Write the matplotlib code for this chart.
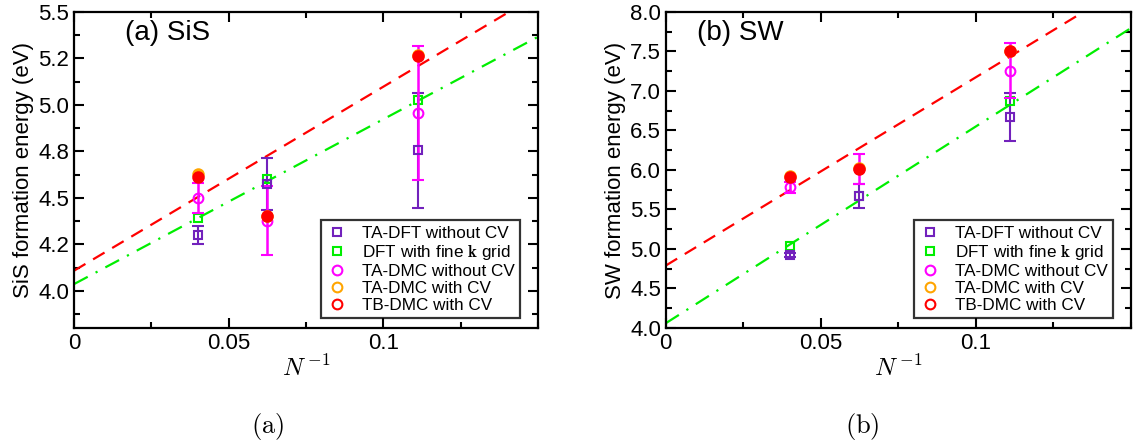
import matplotlib
matplotlib.use('Agg')
import matplotlib.pyplot as plt
from matplotlib.lines import Line2D
from matplotlib.ticker import MultipleLocator, FormatStrFormatter, FixedFormatter, FixedLocator

plt.rcParams['font.family'] = ['Liberation Sans', 'DejaVu Sans']
plt.rcParams['mathtext.fontset'] = 'cm'

# inverse supercell size 1/N
inv_N = [0.04, 0.0625, 0.1111]

# (a) SiS
sis_ta_dft = [4.30, 4.575, 4.755]
sis_ta_dft_err = [0.05, 0.14, 0.31]
sis_dft_fine = [4.39, 4.60, 5.025]
sis_ta_dmc = [4.50, 4.377, 4.955]
sis_ta_dmc_err = [0.08, 0.185, 0.36]
sis_ta_dmc_cv = [4.63, 4.405, 5.27]
sis_ta_dmc_cv_err = [0.01, 0.02, 0.02]
sis_tb_dmc_cv = [4.61, 4.40, 5.265]
sis_tb_dmc_cv_err = [0.01, 0.01, 0.02]
sis_fit_dmc = (4.108, 9.9)     # intercept, slope
sis_fit_dft = (4.036, 8.87)

# (b) SW
sw_ta_dft = [4.925, 5.674, 6.672]
sw_ta_dft_err = [0.03, 0.15, 0.30]
sw_dft_fine = [5.04, 5.665, 6.875]
sw_ta_dmc = [5.784, 6.013, 7.256]
sw_ta_dmc_err = [0.07, 0.19, 0.35]
sw_ta_dmc_cv = [5.928, 6.02, 7.51]
sw_ta_dmc_cv_err = [0.02, 0.02, 0.03]
sw_tb_dmc_cv = [5.906, 6.013, 7.505]
sw_tb_dmc_cv_err = [0.02, 0.03, 0.04]
sw_fit_dmc = (4.79, 23.83)
sw_fit_dft = (4.06, 24.9)

labels = ['TA-DFT without CV', r'DFT with fine $\mathbf{k}$ grid',
          'TA-DMC without CV', 'TA-DMC with CV', 'TB-DMC with CV']

c_purple = '#7221bc'
c_green = '#00ee00'
c_magenta = '#ff00ff'
c_orange = '#ffa500'
c_red = '#ff0000'


def panel(ax, ta_dft, ta_dft_err, dft_fine, ta_dmc, ta_dmc_err,
          ta_cv, ta_cv_err, tb_cv, tb_cv_err, fit_dmc, fit_dft):
    xs = [0, 0.15]
    ax.plot(xs, [fit_dmc[0] + fit_dmc[1] * x for x in xs], c=c_red, ls=(0, (6, 4)), lw=1.6)
    ax.plot(xs, [fit_dft[0] + fit_dft[1] * x for x in xs], c=c_green, ls=(0, (7, 4, 1, 4)), lw=1.6)

    ax.errorbar(inv_N, ta_dft, yerr=ta_dft_err, fmt='s', ms=6, mfc='none', mec=c_purple,
                mew=1.5, ecolor=c_purple, elinewidth=1.5, capsize=4, capthick=1.5)
    ax.plot(inv_N, dft_fine, 's', ms=6, mfc='none', mec=c_green, mew=1.5)
    ax.errorbar(inv_N, ta_dmc, yerr=ta_dmc_err, fmt='o', ms=7, mfc='none', mec=c_magenta,
                mew=1.5, ecolor=c_magenta, elinewidth=1.8, capsize=4, capthick=1.5)
    ax.errorbar(inv_N, ta_cv, yerr=ta_cv_err, fmt='o', ms=7.5, mfc=c_orange, mec=c_orange,
                mew=1.5, ecolor=c_orange, elinewidth=1.2, capsize=2)
    ax.errorbar(inv_N, tb_cv, yerr=tb_cv_err, fmt='o', ms=7.5, mfc=c_red, mec=c_red,
                mew=1.5, ecolor=c_orange, elinewidth=1.0, capsize=2)

    ax.set_xlim(0, 0.15)
    ax.xaxis.set_major_locator(FixedLocator([0, 0.05, 0.1]))
    ax.xaxis.set_major_formatter(FixedFormatter(['0', '0.05', '0.1']))
    ax.xaxis.set_minor_locator(MultipleLocator(0.025))
    ax.tick_params(which='both', direction='in', top=True, right=True, width=1.5)
    ax.tick_params(which='major', length=7, labelsize=16)
    ax.tick_params(which='minor', length=4)
    for s in ax.spines.values():
        s.set_linewidth(1.6)
    ax.set_xlabel(r'$N^{\,\mathrm{-1}}$', fontsize=18, labelpad=1)

    handles = [
        Line2D([], [], ls='none', marker='s', ms=6, mfc='none', mec=c_purple, mew=1.5),
        Line2D([], [], ls='none', marker='s', ms=6, mfc='none', mec=c_green, mew=1.5),
        Line2D([], [], ls='none', marker='o', ms=7, mfc='none', mec=c_magenta, mew=1.5),
        Line2D([], [], ls='none', marker='o', ms=7, mfc='none', mec=c_orange, mew=1.5),
        Line2D([], [], ls='none', marker='o', ms=7, mfc='none', mec=c_red, mew=1.5),
    ]
    leg = ax.legend(handles, labels, loc='lower right', bbox_to_anchor=(0.962, 0.032),
                    fontsize=12.3, frameon=True, fancybox=False, edgecolor='black',
                    labelspacing=0.12, handlelength=1.2, handletextpad=0.9,
                    borderpad=0.3, borderaxespad=0)
    leg.get_frame().set_linewidth(1.6)


fig = plt.figure(figsize=(11.33, 4.46), dpi=100)
ax1 = fig.add_axes([0.0653, 0.2646, 0.4095, 0.7085])
ax2 = fig.add_axes([0.5876, 0.2646, 0.4104, 0.7085])

panel(ax1, sis_ta_dft, sis_ta_dft_err, sis_dft_fine, sis_ta_dmc, sis_ta_dmc_err,
      sis_ta_dmc_cv, sis_ta_dmc_cv_err, sis_tb_dmc_cv, sis_tb_dmc_cv_err,
      sis_fit_dmc, sis_fit_dft)
ax1.set_ylim(3.8, 5.5)
ax1.yaxis.set_major_locator(MultipleLocator(0.25))
ax1.yaxis.set_minor_locator(MultipleLocator(0.125))
ax1.yaxis.set_major_formatter(FormatStrFormatter('%.1f'))
ax1.set_ylabel('SiS formation energy (eV)', fontsize=16, labelpad=3)
ax1.text(0.11, 0.935, '(a) SiS', transform=ax1.transAxes, fontsize=20, va='center')

panel(ax2, sw_ta_dft, sw_ta_dft_err, sw_dft_fine, sw_ta_dmc, sw_ta_dmc_err,
      sw_ta_dmc_cv, sw_ta_dmc_cv_err, sw_tb_dmc_cv, sw_tb_dmc_cv_err,
      sw_fit_dmc, sw_fit_dft)
ax2.set_ylim(4.0, 8.0)
ax2.yaxis.set_major_locator(MultipleLocator(0.5))
ax2.yaxis.set_minor_locator(MultipleLocator(0.25))
ax2.yaxis.set_major_formatter(FormatStrFormatter('%.1f'))
ax2.set_ylabel('SW formation energy (eV)', fontsize=16, labelpad=3)
ax2.text(0.067, 0.935, '(b) SW', transform=ax2.transAxes, fontsize=20, va='center')

fig.text(268 / 1133, 1 - 427 / 446, r'$\mathrm{(a)}$', fontsize=19, ha='center', va='center')
fig.text(862 / 1133, 1 - 427 / 446, r'$\mathrm{(b)}$', fontsize=19, ha='center', va='center')

fig.savefig('out.png', dpi=100)
